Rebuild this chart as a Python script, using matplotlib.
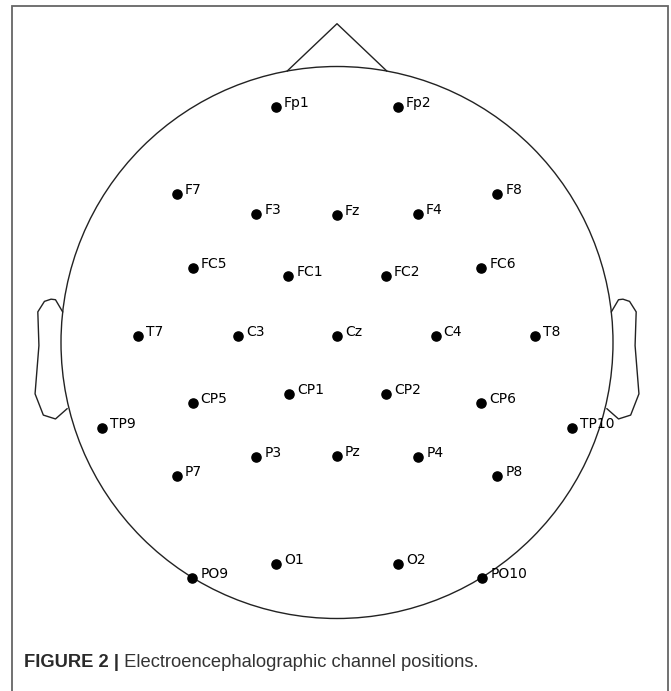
"""EEG channel positions (head outline, sensor dots, figure caption)."""
import numpy as np
import matplotlib
matplotlib.use("Agg")
import matplotlib.pyplot as plt
from matplotlib.patches import Circle

# channel names and 2D positions in head units (head radius = 1, nose up)
CH_NAMES = ["Fp1", "Fp2",
            "F7", "F3", "Fz", "F4", "F8",
            "FC5", "FC1", "FC2", "FC6",
            "T7", "C3", "Cz", "C4", "T8",
            "CP5", "CP1", "CP2", "CP6",
            "TP9", "TP10",
            "P7", "P3", "Pz", "P4", "P8",
            "PO9", "O1", "O2", "PO10"]
CH_X = [-0.221, 0.221,
        -0.580, -0.293, 0.000, 0.293, 0.580,
        -0.523, -0.176, 0.176, 0.523,
        -0.720, -0.359, 0.000, 0.357, 0.718,
        -0.523, -0.175, 0.177, 0.523,
        -0.851, 0.852,
        -0.580, -0.293, 0.000, 0.294, 0.580,
        -0.525, -0.221, 0.221, 0.526]
CH_Y = [0.853, 0.853,
        0.537, 0.467, 0.461, 0.467, 0.537,
        0.269, 0.240, 0.240, 0.269,
        0.024, 0.024, 0.024, 0.024, 0.024,
        -0.218, -0.185, -0.185, -0.218,
        -0.311, -0.311,
        -0.485, -0.415, -0.411, -0.415, -0.485,
        -0.852, -0.801, -0.801, -0.852]

# head outline (nose and right ear, in head units)
NOSE_X = [-0.18, 0.0, 0.18]
NOSE_Y = [0.984, 1.155, 0.984]
EAR_X = [0.994, 1.020, 1.036, 1.060, 1.084, 1.080, 1.094, 1.064, 1.020, 0.978]
EAR_Y = [0.111, 0.155, 0.157, 0.149, 0.111, -0.011, -0.186, -0.263, -0.277, -0.240]

CAPTION_BOLD = "FIGURE 2 |"
CAPTION_TEXT = " Electroencephalographic channel positions."

W, H = 671, 691
CX, CY, R = 337.0, 342.5, 276.0   # head centre / radius in pixels

fig = plt.figure(figsize=(W / 100, H / 100), dpi=100)
fig.patch.set_facecolor("white")

# head axes in head units, equal scaling, placed to match the pixel layout
ax = fig.add_axes([0, 0, 1, 1])
ax.set_xlim(-CX / R, (W - CX) / R)
ax.set_ylim(-(H - CY) / R, CY / R)
ax.axis("off")

lc = "#222222"
ax.add_patch(Circle((0, 0), 1.0, fill=False, ec=lc, lw=1.0))
ax.plot(NOSE_X, NOSE_Y, color=lc, lw=1.0)
ex = np.array(EAR_X); ey = np.array(EAR_Y)
ax.plot(ex, ey, color=lc, lw=1.0)
ax.plot(-ex, ey, color=lc, lw=1.0)

ax.plot(CH_X, CH_Y, "o", color="black", ms=6.6, ls="none")
for nm, x, y in zip(CH_NAMES, CH_X, CH_Y):
    ax.annotate(nm, (x, y), xytext=(5.8, 0), textcoords="offset points",
                ha="left", va="baseline", fontsize=10, color="black",
                family="DejaVu Sans")

# frame + caption in pixel coordinates
ov = fig.add_axes([0, 0, 1, 1], facecolor="none")
ov.set_xlim(0, W); ov.set_ylim(H, 0)
ov.axis("off")
ov.plot([11.5, 11.5, 668, 668], [H + 5, 6, 6, H + 5], color="#666666",
        lw=1.3, solid_joinstyle="miter", clip_on=False)

t1 = ov.text(24, 667, CAPTION_BOLD, fontsize=13.2, fontweight="bold",
             color="#2a2a2a", family="Liberation Sans", va="baseline")
ov.annotate(CAPTION_TEXT, xy=(1, 0), xycoords=t1, va="bottom",
            fontsize=13.2, color="#333333", family="Liberation Sans")

fig.savefig("out.png", dpi=100, facecolor="white")
